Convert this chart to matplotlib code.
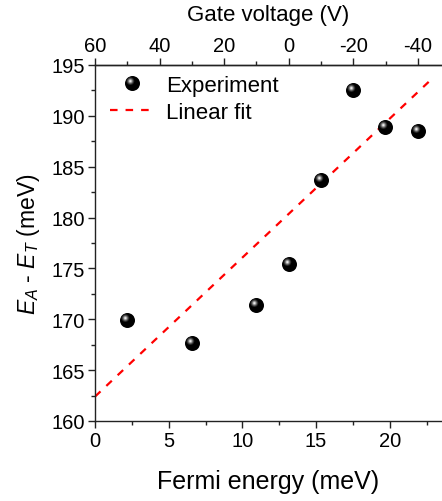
import numpy as np
import matplotlib
matplotlib.use('Agg')
import matplotlib.pyplot as plt
from matplotlib.path import Path
from matplotlib.lines import Line2D
from matplotlib.legend_handler import HandlerTuple
from matplotlib.ticker import MultipleLocator

plt.rcParams['font.family'] = ['Liberation Sans', 'DejaVu Sans']
plt.rcParams['mathtext.fontset'] = 'custom'
plt.rcParams['mathtext.rm'] = 'Liberation Sans'
plt.rcParams['mathtext.it'] = 'Liberation Sans:italic'
plt.rcParams['axes.unicode_minus'] = False

# data
fermi = [2.19, 6.58, 10.92, 13.14, 15.31, 17.53, 19.70, 21.91]
energy = [169.9, 167.65, 171.37, 175.46, 183.72, 192.57, 188.9, 188.5]
fit_e = [0.0, 22.9]
fit_y = [162.4, 193.7]

# gate voltage <-> Fermi energy (60 V at 0 meV, -40 V at 21.9 meV)
v0 = 60.0
v_per_mev = 100.0 / 21.9


def e2v(e):
    return v0 - np.asarray(e) * v_per_mev


def v2e(v):
    return (v0 - np.asarray(v)) / v_per_mev


def ball_path(cx, cy, r):
    # circle inside a fixed [-1, 1] box so every layer scales the same
    c = Path.circle(center=(cx, cy), radius=r)
    box = Path([(1, 1), (-1, -1)], [Path.MOVETO, Path.MOVETO])
    return Path.make_compound_path(box, c)


layers = [
    (0, 0, 1.0, '#000000'),
    (-0.28, 0.32, 0.52, '#252525'),
    (-0.28, 0.32, 0.40, '#555555'),
    (-0.28, 0.32, 0.29, '#8c8c8c'),
    (-0.28, 0.32, 0.19, '#c4c4c4'),
    (-0.28, 0.32, 0.10, '#f4f4f4'),
]

fig = plt.figure(figsize=(4.42, 5.02), dpi=100)
ax = fig.add_axes([95 / 442, 1 - 422 / 502, 1 - 95 / 442, (422 - 66) / 502])

fit_line, = ax.plot(fit_e, fit_y, color='red', lw=1.6, dashes=(3.4, 3.6), zorder=2)

ball_handles = []
for cx, cy, r, col in layers:
    h, = ax.plot(fermi, energy, ls='none', marker=ball_path(cx, cy, r),
                 markersize=10.8, color=col, markeredgewidth=0, zorder=3)
    ball_handles.append(h)

ax.set_xlim(0, (442 - 95) / (73.7 / 5))
ax.set_ylim(160, 195)
ax.xaxis.set_major_locator(MultipleLocator(5))
ax.xaxis.set_minor_locator(MultipleLocator(2.5))
ax.yaxis.set_major_locator(MultipleLocator(5))
ax.yaxis.set_minor_locator(MultipleLocator(2.5))

for s in ['left', 'bottom', 'top']:
    ax.spines[s].set_linewidth(1.0)
    ax.spines[s].set_color('#222222')
ax.spines['right'].set_visible(False)

ax.tick_params(which='major', direction='out', length=5, width=1.0, labelsize=14.5,
               color='#222222', pad=2)
ax.tick_params(which='minor', direction='out', length=3, width=1.0, color='#222222')
ax.tick_params(top=False, right=False, which='both')

ax.set_xlabel('Fermi energy (meV)', fontsize=18, labelpad=14)
ax.set_ylabel(r'$E_A$ - $E_T$ (meV)', fontsize=16.5, labelpad=7)

sec = ax.secondary_xaxis('top', functions=(e2v, v2e))
sec.set_xticks([60, 40, 20, 0, -20, -40])
sec.xaxis.set_minor_locator(MultipleLocator(10))
sec.tick_params(which='major', direction='out', length=5, width=1.0, labelsize=14.5,
                color='#222222', pad=2)
sec.tick_params(which='minor', direction='out', length=3, width=1.0, color='#222222')
sec.spines['top'].set_linewidth(1.0)
sec.spines['top'].set_color('#222222')
sec.set_xlabel('Gate voltage (V)', fontsize=16, labelpad=12)

leg_fit = Line2D([], [], color='red', lw=1.6, dashes=(3.4, 3.6))
ax.legend([tuple(ball_handles), leg_fit], ['Experiment', 'Linear fit'],
          handler_map={tuple: HandlerTuple(ndivide=1, pad=0)},
          loc='upper left', frameon=False, fontsize=16, handlelength=2.0,
          handletextpad=0.5, borderaxespad=0.05, labelspacing=0.25,
          bbox_to_anchor=(0.015, 1.0), numpoints=1)

fig.savefig('out.png', dpi=100)
